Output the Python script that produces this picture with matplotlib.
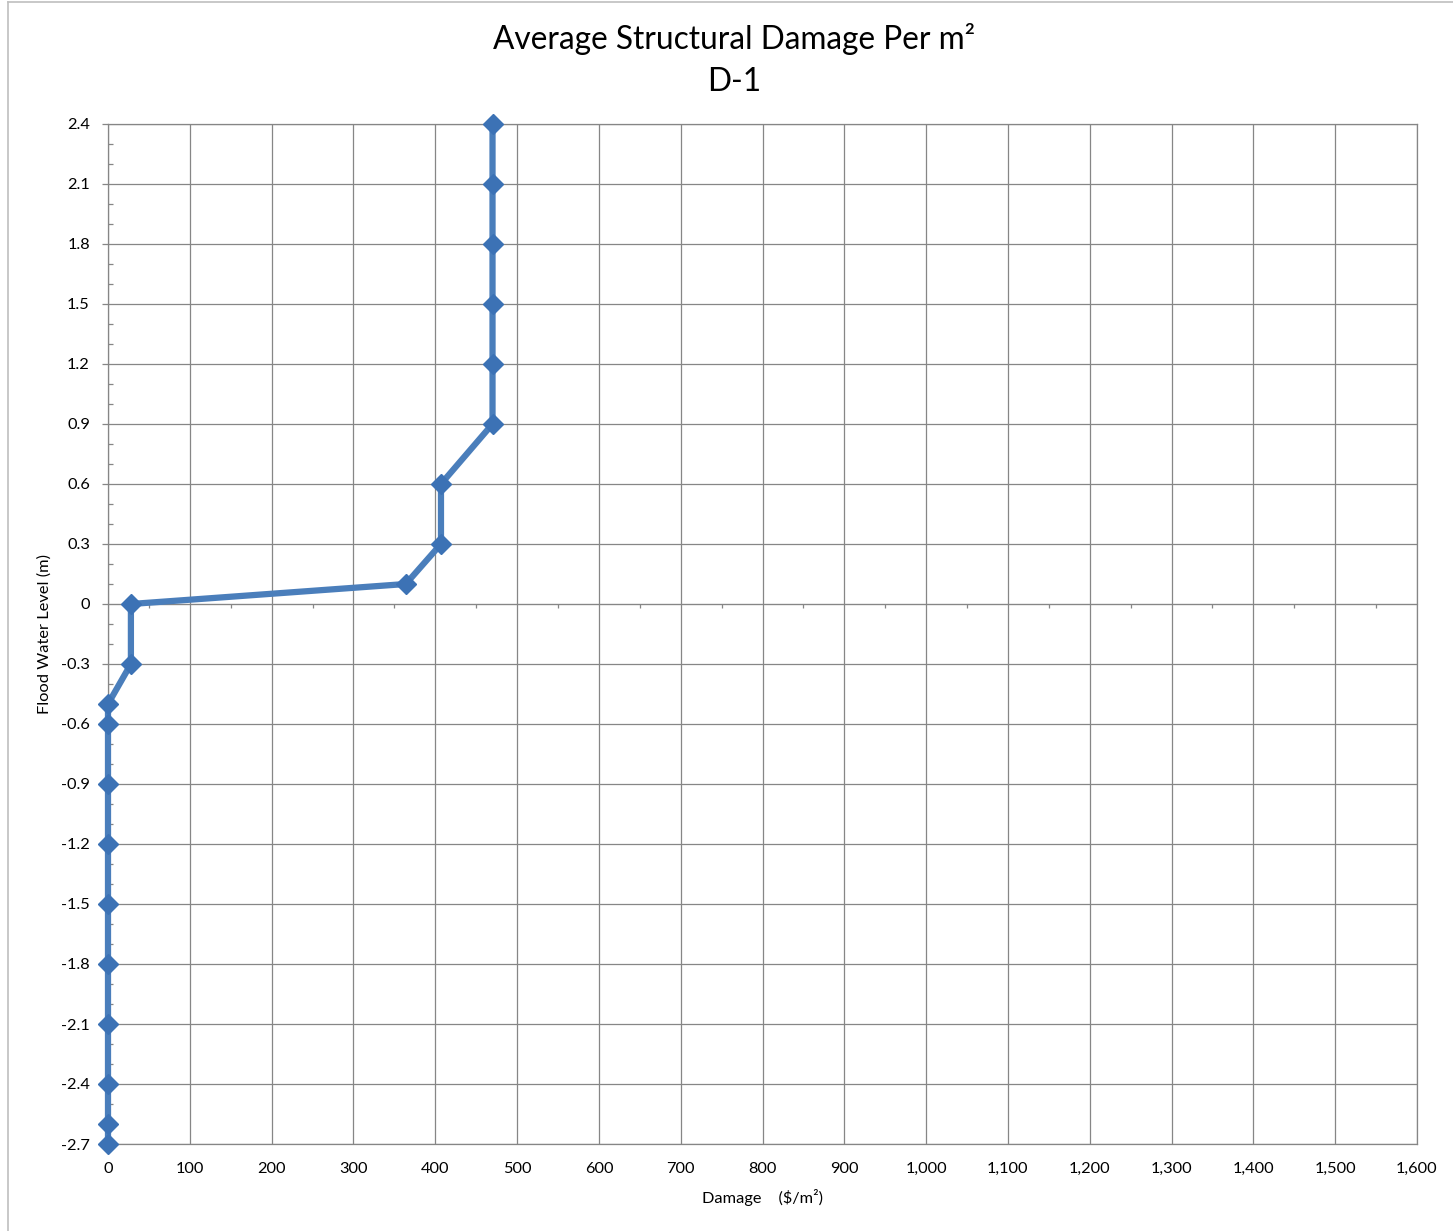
import numpy as np
import matplotlib.pyplot as plt
from matplotlib.lines import Line2D
from matplotlib.ticker import MultipleLocator, FuncFormatter, NullFormatter

plt.rcParams["font.family"] = ["Lato", "DejaVu Sans"]

# Flood water level (m) vs. average structural damage ($/m2)
level = [2.4, 2.1, 1.8, 1.5, 1.2, 0.9, 0.6, 0.3, 0.1, 0.0, -0.3, -0.5,
         -0.6, -0.9, -1.2, -1.5, -1.8, -2.1, -2.4, -2.6, -2.7]
damage = [470, 470, 470, 470, 470, 470, 407, 407, 364, 28, 28, 0,
          0, 0, 0, 0, 0, 0, 0, 0, 0]

title = "Average Structural Damage Per m²"
subtitle = "D-1"

GRID = "#868686"
BLUE = "#4A7EBB"

fig = plt.figure(figsize=(14.53, 12.31), dpi=100)
ax = fig.add_axes([108 / 1453, 1 - 1144 / 1231, 1309 / 1453, 1020 / 1231])

ax.plot(damage, level, color=BLUE, lw=4.5, marker="D", ms=10,
        mfc="#3C72B5", mec="#3C72B5", zorder=3, clip_on=False)

ax.set_xlim(0, 1600)
ax.set_ylim(-2.7, 2.4)

ax.xaxis.set_major_locator(MultipleLocator(100))
ax.xaxis.set_major_formatter(FuncFormatter(lambda v, p: f"{v:,.0f}"))
ax.yaxis.set_major_locator(MultipleLocator(0.3))
ax.yaxis.set_minor_locator(MultipleLocator(0.1))
ax.yaxis.set_major_formatter(FuncFormatter(lambda v, p: "0" if abs(v) < 1e-9 else f"{v:.1f}"))

ax.grid(True, which="major", color=GRID, lw=0.9)
for s in ax.spines.values():
    s.set_color(GRID)
    s.set_linewidth(0.9)

ax.tick_params(axis="x", which="major", length=0, pad=13, labelsize=11.8)
ax.tick_params(axis="y", which="major", length=4, width=0.9, color=GRID,
               direction="out", pad=9, labelsize=11.8)
ax.tick_params(axis="y", which="minor", length=3.5, width=0.9, color=GRID,
               direction="in")

# horizontal axis crossing at y = 0 with small minor ticks
sec = ax.secondary_xaxis(2.7 / 5.1)
sec.spines["bottom"].set_color(GRID)
sec.spines["top"].set_color(GRID)
sec.xaxis.set_major_locator(MultipleLocator(100))
sec.xaxis.set_minor_locator(MultipleLocator(50))
sec.xaxis.set_major_formatter(NullFormatter())
sec.xaxis.set_minor_formatter(NullFormatter())
sec.tick_params(which="major", length=0, labelbottom=False, labeltop=False)
sec.tick_params(which="minor", length=3, width=0.9, color=GRID, direction="in")

ax.set_xlabel("Damage    ($/m²)", fontsize=11.8, labelpad=9)
ax.set_ylabel("Flood Water Level (m)", fontsize=11.8, labelpad=7)

fig.text(0.505, 0.968, title, ha="center", va="center", fontsize=22.8)
fig.text(0.505, 0.933, subtitle, ha="center", va="center", fontsize=22.8)

# outer chart border (left and top visible)
fig.add_artist(Line2D([8 / 1453, 8 / 1453], [0, 1 - 2 / 1231], color="#BFBFBF", lw=1.2))
fig.add_artist(Line2D([8 / 1453, 1], [1 - 2 / 1231, 1 - 2 / 1231], color="#BFBFBF", lw=1.2))

fig.savefig("out.png", dpi=100)
